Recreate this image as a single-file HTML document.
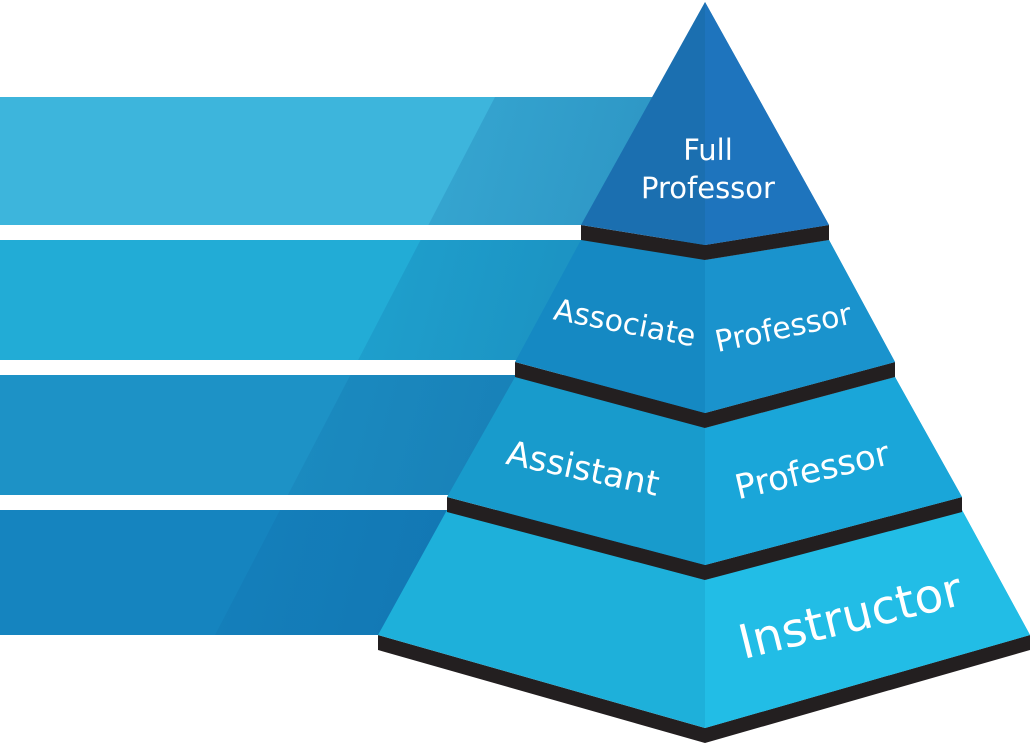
<!DOCTYPE html>
<html><head><meta charset="utf-8"><style>
html,body{margin:0;padding:0;background:#fff;width:1032px;height:744px;overflow:hidden}
svg text{font-family:"DejaVu Sans","Liberation Sans",sans-serif;fill:#fff}
</style></head><body>
<svg width="1032" height="744" viewBox="0 0 1032 744" xmlns="http://www.w3.org/2000/svg">
<defs>
<linearGradient id="sh" x1="0" y1="0" x2="1" y2="0.3"><stop offset="0" stop-color="#0a4f8f" stop-opacity="0"/><stop offset="1" stop-color="#0a4f8f" stop-opacity="0.35"/></linearGradient>
<clipPath id="bands">
<rect x="0" y="97" width="705" height="128"/>
<rect x="0" y="240" width="705" height="120"/>
<rect x="0" y="375" width="705" height="120"/>
<rect x="0" y="510" width="705" height="125"/>
</clipPath>
</defs>
<rect x="0" y="97" width="705" height="128" fill="#3db5dc"/>
<rect x="0" y="240" width="705" height="120" fill="#22acd6"/>
<rect x="0" y="375" width="705" height="120" fill="#1d92c6"/>
<rect x="0" y="510" width="705" height="125" fill="#1584bf"/>
<polygon clip-path="url(#bands)" points="495,97 705,97 705,635 215,635" fill="url(#sh)"/>
<!-- tier4 -->
<polygon points="378,635 705,728 1030,635 1030,650 705,743 378,650" fill="#231f20"/>
<polygon points="447,510 705,580 962,510 1030,635 705,728 378,635" fill="#1eb0da"/>
<polygon points="705,580 962,510 1030,635 705,728" fill="#22bde6"/>
<!-- tier3 -->
<polygon points="447,497 705,565 962,497 962,512 705,580 447,512" fill="#231f20"/>
<polygon points="515,377 705,428 895,377 962,497 705,565 447,497" fill="#189bcc"/>
<polygon points="705,428 895,377 962,497 705,565" fill="#1aa6d9"/>
<!-- tier2 -->
<polygon points="515,362 705,413 895,362 895,377 705,428 515,377" fill="#231f20"/>
<polygon points="581,240 705,260 829,240 895,362 705,413 515,362" fill="#1589c3"/>
<polygon points="705,260 829,240 895,362 705,413" fill="#1a93cd"/>
<!-- tier1 -->
<polygon points="581,225 705,245 829,225 829,240 705,260 581,240" fill="#231f20"/>
<polygon points="705,2 829,225 705,245 581,225" fill="#1b6fb0"/>
<polygon points="705,2 829,225 705,245" fill="#1e74bd"/>
<text x="708" y="160" font-size="29" text-anchor="middle">Full</text>
<text x="708" y="198" font-size="29" text-anchor="middle">Professor</text>
<text x="625" y="333" font-size="30" text-anchor="middle" transform="rotate(11 625 322)">Associate</text>
<text x="783" y="338" font-size="30" text-anchor="middle" transform="rotate(-12 783 327)">Professor</text>
<text x="583" y="480" font-size="34" text-anchor="middle" transform="rotate(12 583 468)">Assistant</text>
<text x="812" y="482" font-size="34" text-anchor="middle" transform="rotate(-13 812 470)">Professor</text>
<text x="850" y="632" font-size="47" text-anchor="middle" transform="rotate(-14 850 615)">Instructor</text>
</svg>
</body></html>
